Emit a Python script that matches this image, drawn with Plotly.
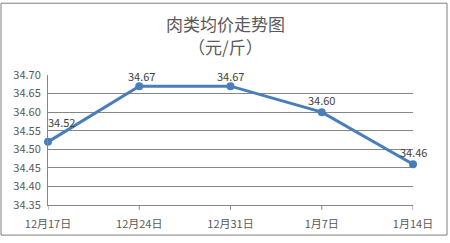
import plotly.graph_objects as go

categories = ["12月17日", "12月24日", "12月31日", "1月7日", "1月14日"]
prices = [34.52, 34.67, 34.67, 34.60, 34.46]
label_xshift = [13, 2, 0, 0, 0]
label_yshift = [20, 10, 10, 12, 12]
title_lines = ["肉类均价走势图", "（元/斤）"]
title_y_px = [22, 46]

W, H = 450, 243
L, R, T, B = 48, 37, 75, 34
pw, ph = W - L - R, H - T - B

font = "Noto Sans CJK SC, Microsoft YaHei, sans-serif"
fig = go.Figure()
fig.add_trace(go.Scatter(
    x=categories, y=prices, mode="lines+markers",
    line=dict(color="#4a7ebb", width=3),
    marker=dict(color="#4a7ebb", size=8),
    cliponaxis=False,
    hoverinfo="skip", showlegend=False,
))
for c, v, dx, dy in zip(categories, prices, label_xshift, label_yshift):
    fig.add_annotation(x=c, y=v, text=f"{v:.2f}", showarrow=False,
                       xshift=dx, yshift=dy, yanchor="middle",
                       font=dict(family=font, size=11, color="#404040"))

for txt, py in zip(title_lines, title_y_px):
    fig.add_annotation(xref="paper", yref="paper", x=(225 - L) / pw,
                       y=(H - B - py) / ph, text=txt,
                       showarrow=False, yanchor="middle",
                       font=dict(family=font, size=17, color="#595959"))

# visible x tick marks at each category
for c in categories:
    fig.add_shape(type="line", xref="x", yref="paper", x0=c, x1=c,
                  y0=0, y1=-5 / ph, line=dict(color="#868686", width=1))

fig.add_shape(type="rect", xref="paper", yref="paper",
              x0=(1 - L) / pw, x1=(W - 3 - L) / pw,
              y0=(H - B - (H - 3)) / ph, y1=(H - B - 1) / ph,
              line=dict(color="#7f7f7f", width=1))

fig.update_layout(
    width=W, height=H, margin=dict(l=L, r=R, t=T, b=B),
    paper_bgcolor="white", plot_bgcolor="white",
    font=dict(family=font, size=11, color="#595959"),
    xaxis=dict(type="category", range=[0, 4], showgrid=False,
               showline=True, linecolor="#868686", linewidth=1,
               ticks="outside", ticklen=9, tickcolor="rgba(0,0,0,0)",
               tickfont=dict(size=11, color="#595959")),
    yaxis=dict(range=[34.35, 34.70], dtick=0.05, tick0=34.35,
               tickformat=".2f", showgrid=True, gridcolor="#868686",
               gridwidth=1, showline=True, linecolor="#868686",
               zeroline=False, ticks="outside", ticklen=4,
               tickcolor="rgba(0,0,0,0)",
               tickfont=dict(size=11, color="#595959")),
)
fig.write_html("out.html")
